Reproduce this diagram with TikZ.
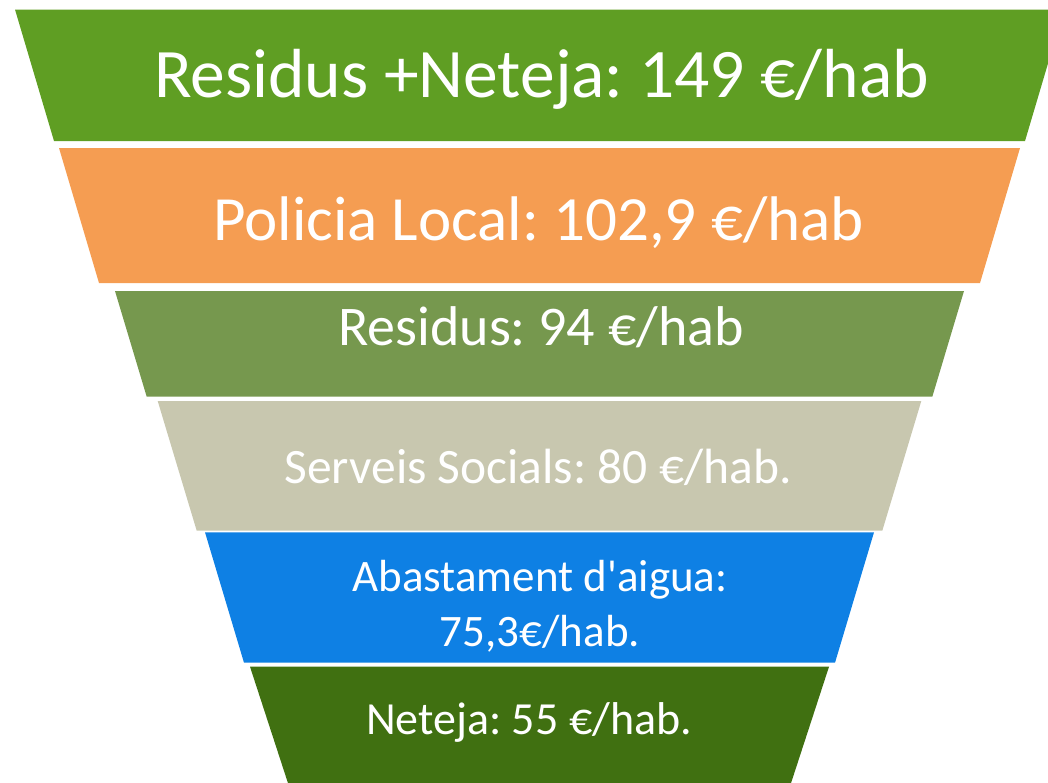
\documentclass[tikz,border=0pt]{standalone}
\usepackage{fontspec}
\setmainfont{Carlito}
\frenchspacing

\definecolor{topgreen}{HTML}{5F9E23}
\definecolor{polorange}{HTML}{F59D52}
\definecolor{olivegreen}{HTML}{76984E}
\definecolor{socgray}{HTML}{C8C7AF}
\definecolor{waterblue}{HTML}{0E80E4}
\definecolor{darkgreen}{HTML}{407011}

\begin{document}
\begin{tikzpicture}[x=1pt,y=-1pt]
    \tikzstyle{lbl}=[text=white, anchor=base, inner sep=0pt, align=center]

    \useasboundingbox (0,0) rectangle (1048,782);

    % funnel layers: top y / bottom y / top left x / bottom left x / colour
    \foreach \ty/\by/\tl/\bl/\col in {9.5/141/15/54/topgreen, 148/283/59/99/polorange,
        291/396.7/115/146.7/olivegreen, 401/530.7/157.7/196.7/socgray,
        532.3/662.7/205/244/waterblue, 666.7/800/250/293.5/darkgreen} {
        \fill[\col] (\tl, \ty) -- (1079 - \tl, \ty) -- (1079 - \bl, \by) -- (\bl, \by) -- cycle;
    }

    \node[lbl, font=\fontsize{69.5}{70}\selectfont] (resnet) at (541.5, 97) {Residus +Neteja: 149 €/hab};
    \node[lbl, font=\fontsize{63}{66}\selectfont] (policia) at (538.5, 240) {Policia Local: 102,9 €/hab};
    \node[lbl, font=\fontsize{56}{56}\selectfont] (residus) at (541, 345) {Residus: 94 €/hab};
    \node[lbl, font=\fontsize{49.5}{50}\selectfont] (socials) at (538, 483) {Serveis Socials: 80 €/hab.};
    \node[lbl, anchor=center, font=\fontsize{45}{55}\selectfont] (aigua) at (540, 606) {Abastament d\textquotesingle aigua:\\75,3€/hab.};
    \node[lbl, font=\fontsize{46}{46}\selectfont] (neteja) at (529, 734) {Neteja: 55 €/hab.};

\end{tikzpicture}
\end{document}
